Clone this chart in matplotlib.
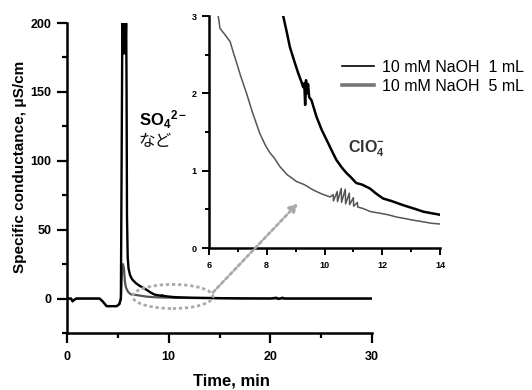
import numpy as np
import matplotlib.pyplot as plt
from matplotlib.patches import Ellipse, ConnectionPatch

plt.rcParams['font.family'] = ['Liberation Sans', 'DejaVu Sans']
plt.rcParams['mathtext.fontset'] = 'custom'
plt.rcParams['mathtext.rm'] = 'Liberation Sans'
plt.rcParams['mathtext.bf'] = 'Liberation Sans:bold'

# 10 mM NaOH 1 mL (black)
t_1mL = [0, 0.4, 0.55, 0.7, 0.9, 3.2, 3.5, 3.9, 4.9, 5.15, 5.3, 5.41, 5.45, 5.52, 5.58,
         5.64, 5.7, 5.76, 5.82, 5.86, 5.9, 5.97, 6.05, 6.2, 6.4, 6.8, 7.2, 7.8, 8.2,
         8.57, 8.7, 8.8, 8.95, 9.09, 9.2, 9.26, 9.3, 9.33, 9.36, 9.4, 9.43, 9.47, 9.55,
         9.72, 9.9, 10.07, 10.25, 10.41, 10.6, 10.76, 10.9, 11.1, 11.3, 11.57, 11.8,
         12.03, 12.3, 12.6, 12.84, 13.1, 13.42, 13.7, 14.0, 15, 17, 20, 20.6, 20.8,
         21.2, 21.4, 30]
c_1mL = [0, 0, -2, -1, 0, 0, -2, -5.5, -5.5, -4, 0, 150, 210, 178, 210,
         178, 210, 178, 205, 150, 60, 30, 22, 17, 14, 11, 9, 6.5, 4.5,
         3.0, 2.78, 2.6, 2.42, 2.26, 2.15, 2.08, 2.13, 1.85, 2.17, 2.0, 2.12, 1.95, 1.91,
         1.70, 1.53, 1.40, 1.26, 1.14, 1.04, 0.97, 0.92, 0.84, 0.82, 0.77, 0.70,
         0.64, 0.61, 0.57, 0.54, 0.51, 0.47, 0.45, 0.43, 0.3, 0.15, 0.05, 0.6, -0.3,
         0.6, 0, 0]

# 10 mM NaOH 5 mL (gray)
t_5mL = [0, 0.4, 0.55, 0.7, 0.9, 3.2, 3.5, 3.9, 4.9, 5.15, 5.3, 5.42, 5.5, 5.6, 5.7,
         5.8, 6.0, 6.2, 6.32, 6.38, 6.55, 6.73, 6.85, 6.96, 7.1, 7.3, 7.5, 7.76, 7.95,
         8.11, 8.25, 8.46, 8.7, 9.03, 9.3, 9.61, 9.9, 10.19, 10.30, 10.31, 10.44, 10.45,
         10.58, 10.59, 10.72, 10.73, 10.86, 10.87, 11.00, 11.01, 11.14, 11.15,
         11.25, 11.34, 11.6, 11.92, 12.2, 12.5, 12.8, 13.07, 13.4,
         13.7, 14.0, 15, 17, 20, 30]
c_5mL = [0, 0, -2, -1, 0, 0, -2, -5.5, -5.5, -4, 0, 20, 25, 22, 12,
         8, 5, 3.5, 3.0, 2.84, 2.76, 2.67, 2.52, 2.39, 2.22, 2.0, 1.76, 1.48, 1.33,
         1.23, 1.17, 1.05, 0.95, 0.86, 0.82, 0.75, 0.70, 0.66, 0.69, 0.61, 0.73, 0.60,
         0.77, 0.59, 0.76, 0.57, 0.71, 0.56, 0.65, 0.54, 0.59, 0.53,
         0.52, 0.51, 0.47, 0.45, 0.43, 0.40, 0.38, 0.36, 0.34,
         0.32, 0.31, 0.2, 0.05, 0, 0]

labels = ['10 mM NaOH  1 mL', '10 mM NaOH  5 mL']

fig = plt.figure(figsize=(5.32, 3.90), dpi=100)
ax = fig.add_axes([67/532, 57/390, 305/532, 310/390])
ax.plot(t_5mL, c_5mL, color='#555555', lw=1.6, label=labels[1], zorder=2)
ax.plot(t_1mL, c_1mL, color='black', lw=1.7, label=labels[0], zorder=3)
ax.set_xlim(0, 30)
ax.set_ylim(-25, 200)
ax.set_xticks([0, 10, 20, 30])
ax.set_xticks([5, 15, 25], minor=True)
ax.set_yticks([0, 50, 100, 150, 200])
ax.set_yticks([-25, 25, 75, 125, 175], minor=True)
for s in ['top', 'right']:
    ax.spines[s].set_visible(False)
for s in ['left', 'bottom']:
    ax.spines[s].set_linewidth(1.8)
ax.tick_params(which='major', length=7, width=1.6, labelsize=9, pad=4)
ax.tick_params(axis='x', which='major', pad=6)
ax.tick_params(which='minor', length=3.5, width=1.6)
for lab in ax.get_xticklabels() + ax.get_yticklabels():
    lab.set_fontweight('bold')
ax.set_ylabel('Specific conductance, μS/cm', fontsize=11, fontweight='bold')
ax.yaxis.set_label_coords(-0.132, 0.535)
ax.set_xlabel('Time, min', fontsize=12, fontweight='bold', va='center')
ax.xaxis.set_label_coords(0.538, -0.155)

ell = Ellipse((10.4, 1.5), 7.9, 17.5, fill=False, ec='#aaaaaa', lw=2,
              linestyle=(0, (1.2, 1.0)), zorder=4)
ax.add_patch(ell)

ax.text(7.1, 130, r'$\mathbf{SO_4{}^{2-}}$', fontsize=12, va='center')
ax.text(7.0, 114, 'など', fontsize=12, va='center', family=['Noto Sans CJK JP'],
        color='#111111')

# inset
ins = fig.add_axes([209/532, 142/390, 231/532, 232/390])
ins.patch.set_alpha(0)
ins.plot(t_5mL, c_5mL, color='#555555', lw=1.1)
ins.plot(t_1mL, c_1mL, color='black', lw=1.8)
ins.set_xlim(6, 14)
ins.set_ylim(0, 3)
ins.set_xticks([6, 8, 10, 12, 14])
ins.set_xticks([7, 9, 11, 13], minor=True)
ins.set_yticks([0, 1, 2, 3])
ins.set_yticks([0.5, 1.5, 2.5], minor=True)
for s in ['top', 'right']:
    ins.spines[s].set_visible(False)
for s in ['left', 'bottom']:
    ins.spines[s].set_linewidth(1.8)
ins.tick_params(which='major', length=5, width=1.4, labelsize=6.5, pad=4)
ins.tick_params(which='minor', length=3, width=1.4)
for lab in ins.get_xticklabels() + ins.get_yticklabels():
    lab.set_fontweight('bold')
ins.text(10.8, 1.28, r'$\mathbf{ClO_4^{-}}$', fontsize=11.5, va='center', color='#333333')

con = ConnectionPatch(xyA=(14.35, 4.4), coordsA=ax.transData,
                      xyB=(9.08, 0.58), coordsB=ins.transData,
                      arrowstyle='-|>', mutation_scale=12, color='#aaaaaa',
                      lw=2, linestyle=(0, (1.2, 1.0)), zorder=5)
fig.add_artist(con)

leg = fig.legend(handles=ax.get_lines()[::-1], labels=labels, loc='upper left',
                 bbox_to_anchor=(342/532, 1 - 60/390), frameon=False, fontsize=11.5,
                 handlelength=2.0, handletextpad=0.5, labelspacing=0.25,
                 borderpad=0, borderaxespad=0)
leg.get_lines()[0].set_linewidth(1.2)
leg.get_lines()[1].set_linewidth(2.6)
leg.get_lines()[1].set_color('#777777')

fig.savefig('out.png', dpi=100)
